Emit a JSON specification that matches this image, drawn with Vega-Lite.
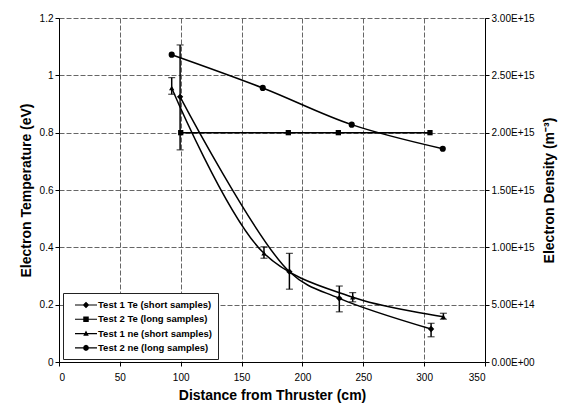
{
  "$schema": "https://vega.github.io/schema/vega-lite/v6.json",
  "width": 426,
  "height": 344,
  "autosize": "none",
  "padding": {"left": 59, "top": 18, "right": 80, "bottom": 43},
  "background": "white",
  "datasets": {
    "te": [
      {"series": "Test 1 Te (short samples)", "x": 99.5, "y": 0.925, "lo": 0.74, "hi": 1.106},
      {"series": "Test 1 Te (short samples)", "x": 189.3, "y": 0.315, "lo": 0.254, "hi": 0.379},
      {"series": "Test 1 Te (short samples)", "x": 230.3, "y": 0.222, "lo": 0.175, "hi": 0.265},
      {"series": "Test 1 Te (short samples)", "x": 305.7, "y": 0.115, "lo": 0.088, "hi": 0.135},
      {"series": "Test 2 Te (long samples)", "x": 100, "y": 0.8},
      {"series": "Test 2 Te (long samples)", "x": 188.4, "y": 0.8},
      {"series": "Test 2 Te (long samples)", "x": 229.5, "y": 0.8},
      {"series": "Test 2 Te (long samples)", "x": 304.8, "y": 0.8}
    ],
    "ne": [
      {"series": "Test 1 ne (short samples)", "x": 92.6, "y": 2.39e15, "lo": 2.335e15, "hi": 2.48e15},
      {"series": "Test 1 ne (short samples)", "x": 168.4, "y": 9.48e14, "lo": 9.05e14, "hi": 1.005e15},
      {"series": "Test 1 ne (short samples)", "x": 241.3, "y": 5.65e14, "lo": 5.25e14, "hi": 6.05e14},
      {"series": "Test 1 ne (short samples)", "x": 315.8, "y": 3.95e14, "lo": 3.73e14, "hi": 4.25e14},
      {"series": "Test 2 ne (long samples)", "x": 92.6, "y": 2.68e15},
      {"series": "Test 2 ne (long samples)", "x": 167.4, "y": 2.39e15},
      {"series": "Test 2 ne (long samples)", "x": 240.5, "y": 2.07e15},
      {"series": "Test 2 ne (long samples)", "x": 315.3, "y": 1.86e15}
    ]
  },
  "config": {
    "view": {"stroke": null},
    "axis": {
      "labelFont": "Liberation Sans",
      "labelFontSize": 10,
      "labelColor": "black",
      "titleFont": "Liberation Sans",
      "titleFontSize": 14,
      "titleFontWeight": "bold",
      "titleColor": "black",
      "domainColor": "black",
      "tickColor": "black",
      "tickSize": 4,
      "gridColor": "#666",
      "gridDash": [5, 2],
      "gridOpacity": 1
    },
    "legend": {
      "labelFont": "Liberation Sans",
      "labelFontSize": 9.5,
      "labelFontWeight": "bold",
      "labelColor": "black"
    }
  },
  "layer": [
    {
      "data": {"name": "te"},
      "encoding": {
        "x": {
          "field": "x", "type": "quantitative",
          "scale": {"domain": [0, 350], "nice": false},
          "axis": {"values": [0, 50, 100, 150, 200, 250, 300, 350], "title": "Distance from Thruster (cm)", "labelPadding": 6, "titlePadding": 6, "grid": true}
        },
        "y": {
          "field": "y", "type": "quantitative",
          "scale": {"domain": [0, 1.2], "nice": false},
          "axis": {"orient": "left", "values": [0, 0.2, 0.4, 0.6, 0.8, 1, 1.2], "format": "~g", "title": "Electron Temperature (eV)", "grid": true, "titlePadding": 6}
        }
      },
      "layer": [
        {
          "mark": {"type": "line", "color": "black", "strokeWidth": 1.5, "interpolate": "catmull-rom"},
          "encoding": {"detail": {"field": "series"}}
        },
        {
          "transform": [{"filter": "datum.series == 'Test 1 Te (short samples)'"}],
          "mark": {"type": "point", "shape": "diamond", "filled": true, "color": "black", "size": 40, "opacity": 1}
        },
        {
          "transform": [{"filter": "datum.series == 'Test 2 Te (long samples)'"}],
          "mark": {"type": "point", "shape": "square", "filled": true, "color": "black", "size": 28, "opacity": 1}
        },
        {
          "transform": [{"filter": "isValid(datum.lo)"}],
          "mark": {"type": "rule", "color": "black", "strokeWidth": 1.5},
          "encoding": {"y": {"field": "lo", "type": "quantitative"}, "y2": {"field": "hi"}}
        },
        {
          "transform": [{"filter": "isValid(datum.lo)"}],
          "mark": {"type": "tick", "orient": "horizontal", "color": "black", "size": 7, "thickness": 1.2},
          "encoding": {"y": {"field": "lo", "type": "quantitative"}}
        },
        {
          "transform": [{"filter": "isValid(datum.hi)"}],
          "mark": {"type": "tick", "orient": "horizontal", "color": "black", "size": 7, "thickness": 1.2},
          "encoding": {"y": {"field": "hi", "type": "quantitative"}}
        },
        {
          "mark": {"type": "point", "opacity": 0, "fill": "black", "stroke": "black", "strokeWidth": 1.2},
          "encoding": {
            "shape": {
              "field": "series", "type": "nominal",
              "scale": {
                "domain": ["Test 1 Te (short samples)", "Test 2 Te (long samples)", "Test 1 ne (short samples)", "Test 2 ne (long samples)"],
                "range": [
                  "M0,-0.1L4,-0.1L4,0.1L0,0.1ZM2,-0.6L2.6,0L2,0.6L1.4,0Z",
                  "M0,-0.1L4,-0.1L4,0.1L0,0.1ZM1.5,-0.5L2.5,-0.5L2.5,0.5L1.5,0.5Z",
                  "M0,-0.1L4,-0.1L4,0.1L0,0.1ZM2,-0.55L2.5,0.4L1.5,0.4Z",
                  "M0,-0.1L4,-0.1L4,0.1L0,0.1ZM2.55,0L2.39,0.39L2,0.55L1.61,0.39L1.45,0L1.61,-0.39L2,-0.55L2.39,-0.39Z"
                ]
              },
              "legend": {
                "title": null,
                "orient": "none",
                "legendX": 4,
                "legendY": 275,
                "padding": 6,
                "strokeColor": "#222",
                "fillColor": "white",
                "symbolSize": 121,
                "symbolOpacity": 1,
                "symbolFillColor": "black",
                "symbolStrokeColor": "black",
                "symbolStrokeWidth": 0.6,
                "labelOffset": 17,
                "rowPadding": 3.3,
                "encode": {
                  "symbols": {
                    "update": {
                      "stroke": {"value": "black"},
                      "strokeWidth": {"value": 0.6},
                      "fill": {"value": "black"},
                      "opacity": {"value": 1},
                      "fillOpacity": {"value": 1},
                      "strokeOpacity": {"value": 1}
                    }
                  }
                }
              }
            }
          }
        }
      ]
    },
    {
      "data": {"name": "ne"},
      "encoding": {
        "x": {"field": "x", "type": "quantitative", "scale": {"domain": [0, 350], "nice": false}},
        "y": {
          "field": "y", "type": "quantitative",
          "scale": {"domain": [0, 3e15], "nice": false},
          "axis": {"orient": "right", "values": [0, 5e14, 1e15, 1.5e15, 2e15, 2.5e15, 3e15], "labelExpr": "datum.value == 0 ? '0.00E+00' : upper(format(datum.value, '.2e'))", "title": "Electron Density (m⁻³)", "titleAngle": 270, "grid": false, "titlePadding": 22}
        }
      },
      "layer": [
        {
          "mark": {"type": "line", "color": "black", "strokeWidth": 1.5, "interpolate": "catmull-rom"},
          "encoding": {"detail": {"field": "series"}}
        },
        {
          "transform": [{"filter": "datum.series == 'Test 1 ne (short samples)'"}],
          "mark": {"type": "point", "shape": "triangle-up", "filled": true, "color": "black", "size": 28, "opacity": 1}
        },
        {
          "transform": [{"filter": "datum.series == 'Test 2 ne (long samples)'"}],
          "mark": {"type": "point", "shape": "circle", "filled": true, "color": "black", "size": 38, "opacity": 1}
        },
        {
          "transform": [{"filter": "isValid(datum.lo)"}],
          "mark": {"type": "rule", "color": "black", "strokeWidth": 1.5},
          "encoding": {"y": {"field": "lo", "type": "quantitative"}, "y2": {"field": "hi"}}
        },
        {
          "transform": [{"filter": "isValid(datum.lo)"}],
          "mark": {"type": "tick", "orient": "horizontal", "color": "black", "size": 7, "thickness": 1.2},
          "encoding": {"y": {"field": "lo", "type": "quantitative"}}
        },
        {
          "transform": [{"filter": "isValid(datum.hi)"}],
          "mark": {"type": "tick", "orient": "horizontal", "color": "black", "size": 7, "thickness": 1.2},
          "encoding": {"y": {"field": "hi", "type": "quantitative"}}
        }
      ]
    }
  ],
  "resolve": {"scale": {"y": "independent"}}
}
